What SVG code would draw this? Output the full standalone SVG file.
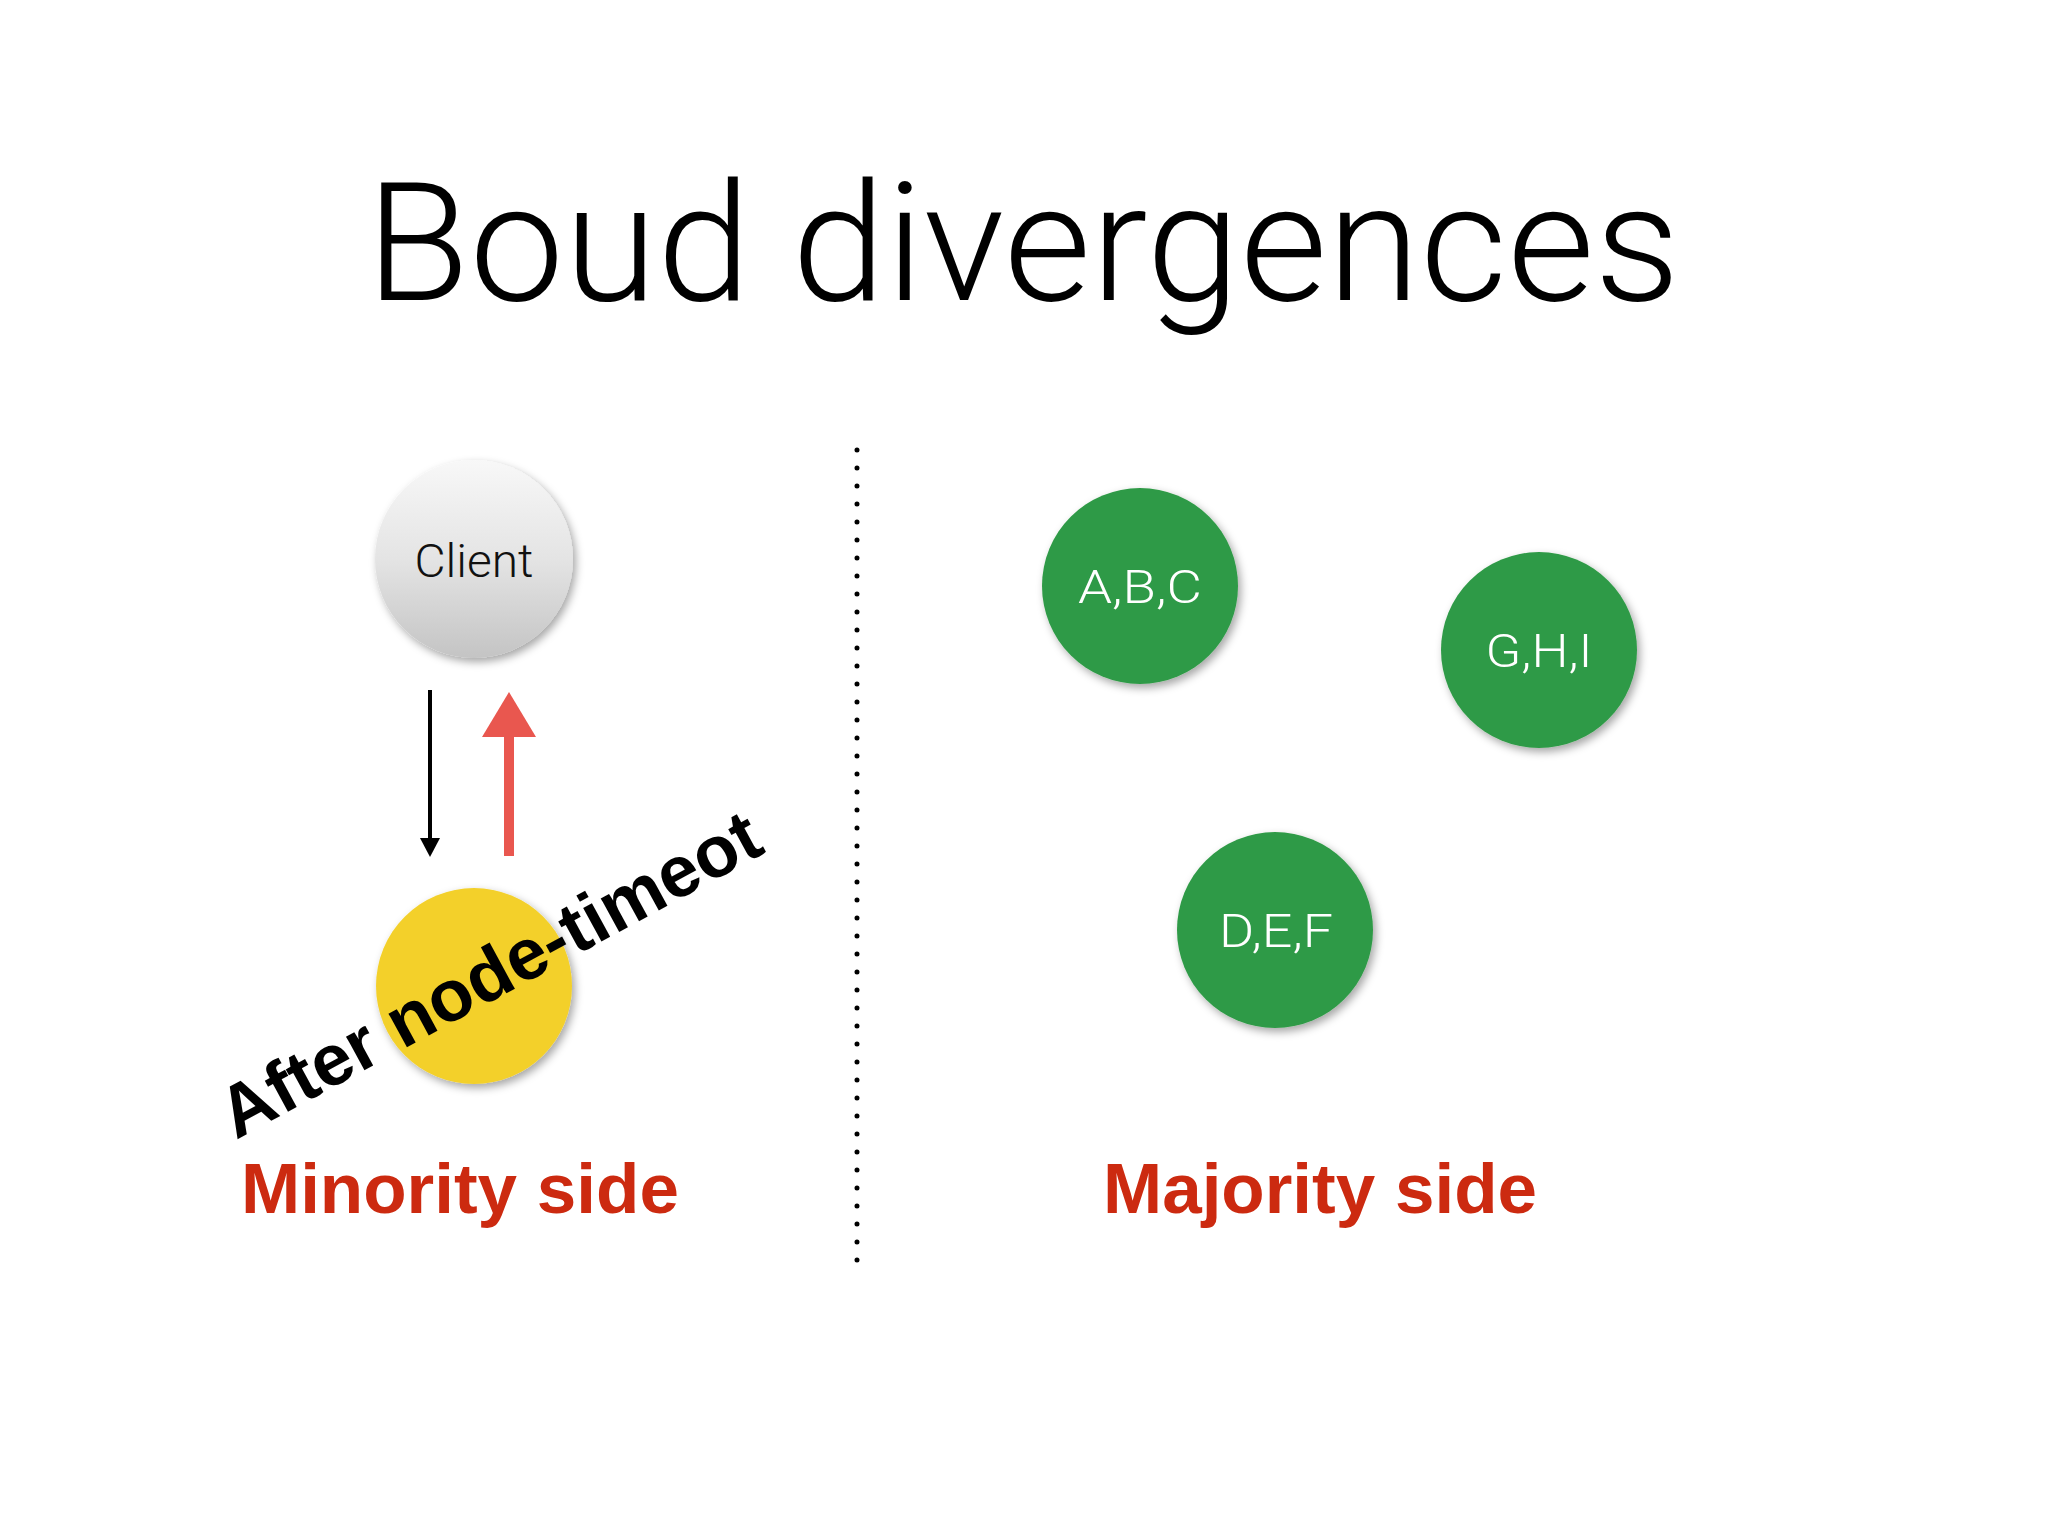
<svg xmlns="http://www.w3.org/2000/svg" width="2048" height="1536" viewBox="0 0 2048 1536">
  <style>
    .title { font-family: Roboto, "Liberation Sans", sans-serif; font-weight: 300; font-size: 166px; fill: #000; }
    .lbl { font-family: Roboto, "Liberation Sans", sans-serif; font-weight: 300; font-size: 47px; text-anchor: middle; }
    .side { font-family: "Liberation Sans", Arial, sans-serif; font-weight: bold; font-size: 71px; fill: #cc2a10; }
    .green { fill: #2f9a46; }
    .white { fill: #ffffff; }
  </style>
  <defs>
    <linearGradient id="clientGrad" x1="0" y1="0" x2="0" y2="1">
      <stop offset="0" stop-color="#f8f8f8"/>
      <stop offset="0.5" stop-color="#e4e4e4"/>
      <stop offset="1" stop-color="#c4c4c4"/>
    </linearGradient>
    <filter id="shadow" x="-20%" y="-20%" width="150%" height="150%">
      <feDropShadow dx="3" dy="4" stdDeviation="4" flood-color="#000" flood-opacity="0.35"/>
    </filter>
  </defs>
  <rect width="2048" height="1536" fill="#ffffff"/>

  <text class="title" x="366" y="300" textLength="1314" lengthAdjust="spacingAndGlyphs">Boud divergences</text>

  <g id="connectors">
    <line x1="857" y1="450" x2="857" y2="1264" stroke="#000" stroke-width="5" stroke-linecap="round" stroke-dasharray="0 18"/>
    <line x1="430" y1="690" x2="430" y2="842" stroke="#000" stroke-width="4"/>
    <polygon points="420,838 440,838 430,857" fill="#000"/>
    <rect x="504" y="730" width="10" height="126" fill="#e9574f"/>
    <polygon points="509,692 482,737 536,737" fill="#e9574f"/>
  </g>

  <g id="client">
    <circle cx="474" cy="559" r="99" fill="url(#clientGrad)" filter="url(#shadow)"/>
    <text class="lbl" x="474" y="577" fill="#111" textLength="119" lengthAdjust="spacingAndGlyphs">Client</text>
  </g>

  <g id="abc">
    <circle cx="1140" cy="586" r="98" class="green" filter="url(#shadow)"/>
    <text class="lbl white" x="1140" y="603" textLength="124" lengthAdjust="spacingAndGlyphs">A,B,C</text>
  </g>

  <g id="ghi">
    <circle cx="1539" cy="650" r="98" class="green" filter="url(#shadow)"/>
    <text class="lbl white" x="1539" y="667" textLength="107" lengthAdjust="spacingAndGlyphs">G,H,I</text>
  </g>

  <g id="def">
    <circle cx="1275" cy="930" r="98" class="green" filter="url(#shadow)"/>
    <text class="lbl white" x="1276" y="947" textLength="114" lengthAdjust="spacingAndGlyphs">D,E,F</text>
  </g>

  <g id="minority-node">
    <circle cx="474" cy="986" r="98" fill="#f3d02c" filter="url(#shadow)"/>
  </g>

  <text x="236" y="1140" transform="rotate(-28.5 236 1140)" font-family="'Liberation Sans', Arial, sans-serif" font-weight="bold" font-size="72.5" fill="#000">After node-timeot</text>

  <text class="side" x="241" y="1213">Minority side</text>
  <text class="side" x="1103" y="1213">Majority side</text>
</svg>
